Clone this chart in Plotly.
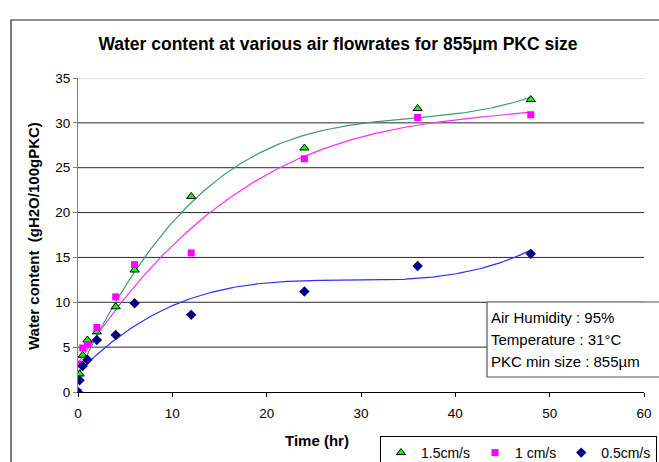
import numpy as np
import plotly.graph_objects as go

# Sampling times (hr)
time_hr = [0, 0.17, 0.5, 1, 2, 4, 6, 12, 24, 36, 48]

# Water content (gH2O/100gPKC) for each air flowrate
wc_15 = [0, 2.0, 4.1, 5.8, 6.7, 9.5, 13.6, 21.8, 27.2, 31.6, 32.6]
wc_10 = [0, 3.1, 4.9, 5.3, 7.2, 10.6, 14.2, 15.5, 26.0, 30.6, 30.9]
wc_05 = [0, 1.3, 2.9, 3.6, 5.8, 6.35, 9.9, 8.6, 11.2, 14.05, 15.4]

series_names = ["1.5cm/s", "1 cm/s", "0.5cm/s"]
y_ticks = [0, 5, 10, 15, 20, 25, 30, 35]
x_ticks = [0, 10, 20, 30, 40, 50, 60]

info_lines = ["Air Humidity : 95%", "Temperature : 31°C", "PKC min size : 855µm"]

FONT = "Arial, Liberation Sans, sans-serif"

W, H = 659, 462
ML, MR, MT, MB = 78, 15, 78, 70
PW, PH = W - ML - MR, H - MT - MB


def px_x(px):
    return (px - ML) / PW


def px_y(py):
    return (H - MB - py) / PH


fig = go.Figure()

# polynomial (order 3) trendlines
t_fit = np.linspace(0, 48, 300)
trend_styles = [
    (wc_15, "#3f9b6f"),
    (wc_10, "#ff2bff"),
    (wc_05, "#2f2fff"),
]
for ys, col in trend_styles:
    coef = np.polyfit(time_hr, ys, 3)
    fig.add_trace(go.Scatter(
        x=t_fit, y=np.polyval(coef, t_fit), mode="lines",
        line=dict(color=col, width=1.2), showlegend=False, hoverinfo="skip",
    ))

marker_styles = [
    dict(symbol="triangle-up", size=8, color="#00ff00", line=dict(color="black", width=1)),
    dict(symbol="square", size=7, color="#ff00ff", line=dict(width=0)),
    dict(symbol="diamond", size=8, color="#000080", line=dict(width=0)),
]
for ys, name, mk in zip([wc_15, wc_10, wc_05], series_names, marker_styles):
    fig.add_trace(go.Scatter(x=time_hr, y=ys, mode="markers", name=name, marker=mk))

shapes = []
# horizontal gridlines
for v in y_ticks[1:]:
    shapes.append(dict(
        type="line", xref="paper", yref="y", x0=0, x1=1, y0=v, y1=v,
        line=dict(color="#c0c0c0" if v == y_ticks[-1] else "#2a2a2a", width=1),
        layer="below",
    ))
# outer chart border
shapes.append(dict(
    type="rect", xref="paper", yref="paper",
    x0=px_x(11), x1=px_x(700), y0=px_y(500), y1=px_y(20),
    line=dict(color="#222222", width=1.2), fillcolor="rgba(0,0,0,0)", layer="below",
))
# info box
shapes.append(dict(
    type="rect", xref="paper", yref="paper",
    x0=px_x(487), x1=px_x(700), y0=px_y(377), y1=px_y(302),
    line=dict(color="#555555", width=1.2), fillcolor="white", layer="above",
))

annotations = []
for i, line in enumerate(info_lines):
    annotations.append(dict(
        text=line, xref="paper", yref="paper",
        x=px_x(489), y=px_y(317 + 22 * i), xanchor="left", yanchor="middle",
        showarrow=False, font=dict(family=FONT, size=15, color="black"),
    ))
annotations += [
    dict(
        text="<b>Time (hr)</b>", xref="paper", yref="paper",
        x=px_x(317), y=px_y(440), xanchor="center", yanchor="middle",
        showarrow=False, font=dict(family=FONT, size=15, color="black"),
    ),
    dict(
        text="<b>Water content  (gH2O/100gPKC)</b>", xref="paper", yref="paper",
        x=px_x(33), y=px_y(236), xanchor="center", yanchor="middle", textangle=-90,
        showarrow=False, font=dict(family=FONT, size=15, color="black"),
    ),
]

fig.update_layout(
    width=W, height=H,
    margin=dict(l=ML, r=MR, t=MT, b=MB, autoexpand=False),
    paper_bgcolor="white", plot_bgcolor="white",
    font=dict(family=FONT, color="black"),
    title=dict(
        text="<b>Water content at various air flowrates for 855µm PKC size</b>",
        x=338 / W, xref="container", xanchor="center",
        y=1 - 44 / H, yref="container", yanchor="middle",
        font=dict(family=FONT, size=17.5, color="black"),
    ),
    xaxis=dict(
        range=[0, 60], tickvals=x_ticks, showgrid=False, zeroline=False,
        showline=True, linecolor="#000000", linewidth=1,
        ticks="outside", ticklen=4, tickcolor="#000000",
        tickfont=dict(family=FONT, size=13.5, color="black"), ticklabelstandoff=5,
    ),
    yaxis=dict(
        range=[0, 35], tickvals=y_ticks, showgrid=False, zeroline=False,
        showline=True, linecolor="#808080", linewidth=1,
        ticks="outside", ticklen=4, tickcolor="#808080",
        tickfont=dict(family=FONT, size=13.5, color="black"),
    ),
    legend=dict(
        orientation="h", x=px_x(380), y=px_y(436), xanchor="left", yanchor="top",
        bordercolor="black", borderwidth=1, bgcolor="white",
        font=dict(family=FONT, size=14, color="black"),
    ),
    shapes=shapes,
    annotations=annotations,
)

fig.write_html("out.html")
